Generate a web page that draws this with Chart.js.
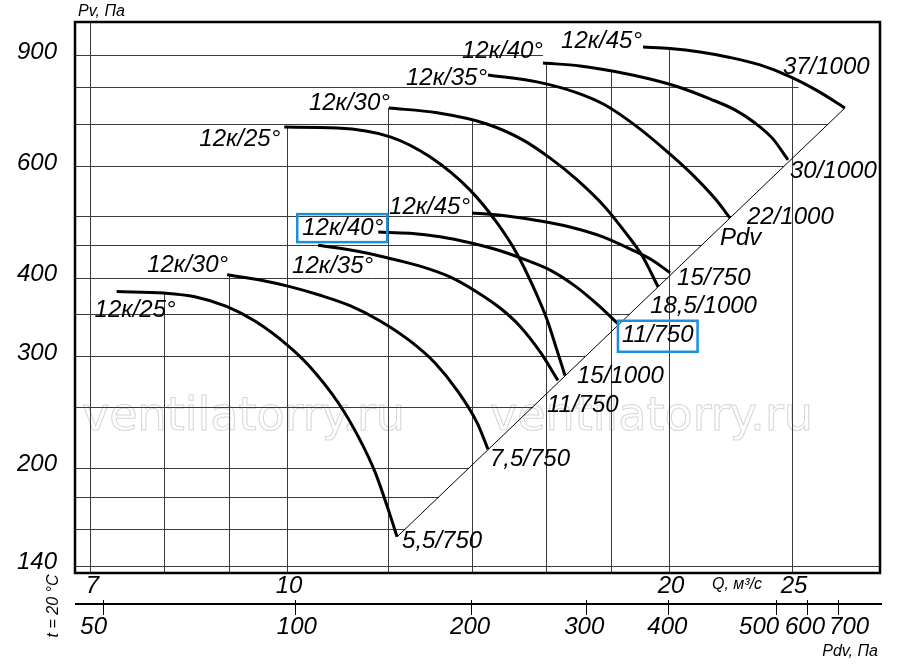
<!DOCTYPE html>
<html>
<head>
<meta charset="utf-8">
<script src="https://cdn.jsdelivr.net/npm/chart.js@4.4.1/dist/chart.umd.min.js"></script>
<style>
  html, body { margin: 0; padding: 0; background: #fff; }
</style>
</head>
<body>
<canvas id="chart" width="900" height="669"></canvas>
<script>
// axis ticks and grid
const qTicks = [7, 10, 20, 25];
const qGrid = [7, 8, 9, 10, 12, 14, 16, 18, 20, 25];
const pvTicks = [140, 200, 300, 400, 600, 900];
const pvGrid = [140, 160, 180, 200, 250, 300, 350, 400, 450, 500, 600, 700, 800, 900];
const pdvTicks = [50, 100, 200, 300, 400, 500, 600, 700];
const pdvTickQ = [7.16, 10.15, 13.96, 17.2, 19.97, 24.3, 25.7, 27.2];
const pdvLabelQ = [7.04, 10.18, 13.94, 17.15, 19.94, 23.55, 25.6, 27.73];

// lower group (750 rpm motors)
const low25Q = [7.34, 8.0, 8.46, 8.96, 9.44, 10.0, 10.39, 10.98, 11.38, 11.73, 12.06, 12.21];
const low25P = [380, 378, 373, 360, 341, 313, 291, 253, 224, 197, 168, 155.5];
const low30Q = [8.97, 9.52, 10.05, 10.62, 11.21, 11.84, 12.5, 13.08, 13.61, 14.12, 14.4];
const low30P = [404, 396.5, 387, 375, 361, 341.5, 317.5, 293, 265.5, 235.5, 214];
const low35Q = [10.58, 11.31, 11.99, 12.73, 13.44, 14.07, 14.72, 15.26, 15.83, 16.35];
const low35P = [450, 441, 430, 417, 401, 381, 358, 335, 305, 275];
const low40Q = [11.8, 12.5, 13.2, 13.94, 14.72, 15.4, 16.12, 16.86, 17.58, 18.23];
const low40P = [472, 470, 464, 454, 441, 427, 411, 388, 362, 338];
const low45Q = [13.99, 14.85, 15.74, 16.71, 17.74, 18.63, 19.39, 20.04];
const low45P = [506, 501, 492.5, 481, 464, 444, 426.5, 407];

// upper group
const up25Q = [9.95, 10.95, 12.06, 12.96, 13.94, 14.64, 15.18, 15.63, 16.03, 16.32, 16.56];
const up25P = [692, 690, 668, 621, 550, 488, 436, 387, 343, 307, 280];
const up30Q = [12.03, 13.13, 14.37, 15.35, 16.12, 16.93, 17.81, 18.47, 19.05, 19.61];
const up30P = [742, 729, 700, 660, 618, 571, 517, 472, 433, 386.5];
const up35Q = [14.4, 15.74, 16.93, 17.81, 18.8, 19.86, 20.85, 21.78, 22.34];
const up35P = [837, 816, 784, 750, 697, 637, 583, 531, 497];
const up40Q = [15.91, 17.02, 18.13, 19.32, 20.4, 21.54, 22.54, 23.38, 24.15, 24.82];
const up40P = [874, 865, 847.5, 824.5, 799.5, 767, 737, 702.5, 663, 614];
const up45Q = [19.08, 20.04, 21.16, 22.34, 23.59, 24.91, 26.21, 27.52];
const up45P = [926.5, 921.5, 910, 892, 868, 832, 789, 742];

// Pdv line
const pdvLineQ = [12.21, 27.52];
const pdvLineP = [155.5, 742];

const angleNames = ['12к/25°', '12к/30°', '12к/35°', '12к/40°', '12к/45°'];
const lowMotors = ['5,5/750', '7,5/750', '11/750', '11/750', '15/750'];
const upMotors = ['15/1000', '18,5/1000', '22/1000', '30/1000', '37/1000'];

// where the 800 / 900 grid lines stop (above the Pdv line)
const gridEndAbove = { 800: 25.3, 900: 15.91 };

const lowCurves = [[low25Q, low25P], [low30Q, low30P], [low35Q, low35P], [low40Q, low40P], [low45Q, low45P]];
const upCurves = [[up25Q, up25P], [up30Q, up30P], [up35Q, up35P], [up40Q, up40P], [up45Q, up45P]];
const allCurves = lowCurves.concat(upCurves);

// label placement: [dx, dy, align] from curve start (names) / end (motors)
const lowNamePos = [[-22, 19, 'left'], [1, -9, 'right'], [-26, 21, 'left'], [5, -4, 'right'], [-2, -6, 'right']];
const upNamePos = [[-4, 12, 'right'], [1, -5, 'right'], [-1, 3, 'right'], [0, -12, 'right'], [-1, -6, 'right']];
const lowMotorPos = [[5, 4], [2, 10], [-11, 25], [4, 12], [7, 6]];
const upMotorPos = [[12, 1], [-8, 19], [17, -1], [2, 11], [-62, -41]];
const boxedLow = 3;
const boxColor = '#1a8fdc';
const FONT = '"Liberation Sans", Arial, sans-serif';
const SIZE = 24;

function toPoints(q, p) { return q.map((v, i) => ({ x: v, y: p[i] })); }

function logInterp(q, p, x) {
  for (let i = 0; i < q.length - 1; i++) {
    if (x >= q[i] && x <= q[i + 1]) {
      const t = Math.log(x / q[i]) / Math.log(q[i + 1] / q[i]);
      return Math.exp(Math.log(p[i]) + t * Math.log(p[i + 1] / p[i]));
    }
  }
  return p[0];
}

function envelopeAt(x) {
  let best = null;
  allCurves.forEach(([q, p]) => {
    if (x >= q[0] * 0.99 && x <= q[q.length - 1]) {
      const v = x < q[0] ? p[0] : logInterp(q, p, x);
      if (best === null || v > best) best = v;
    }
  });
  return best;
}

function diagQAt(pv) {
  const t = Math.log(pv / pdvLineP[0]) / Math.log(pdvLineP[1] / pdvLineP[0]);
  return Math.exp(Math.log(pdvLineQ[0]) + t * Math.log(pdvLineQ[1] / pdvLineQ[0]));
}

function txt(ctx, s, x, y, align, size) {
  ctx.font = 'italic ' + size + 'px ' + FONT;
  ctx.textAlign = align;
  ctx.textBaseline = 'middle';
  ctx.fillText(s, x, y);
  return ctx.measureText(s).width;
}

const gridPlugin = {
  id: 'gridPlugin',
  beforeDatasetsDraw(chart) {
    const ctx = chart.ctx, xs = chart.scales.x, ys = chart.scales.y;
    const a = chart.chartArea;
    ctx.save();
    // watermark
    ctx.strokeStyle = '#d6d6d6';
    ctx.lineWidth = 1;
    ctx.font = '46px "DejaVu Sans", sans-serif';
    ctx.textAlign = 'left';
    ctx.textBaseline = 'alphabetic';
    ctx.strokeText('ventilatorry.ru', 82, 430);
    ctx.strokeText('ventilatorry.ru', 490, 430);

    ctx.strokeStyle = '#3a3a3a';
    ctx.lineWidth = 1;
    qGrid.forEach(q => {
      const env = envelopeAt(q);
      const x = Math.round(xs.getPixelForValue(q)) + 0.5;
      const yTop = env === null ? a.top : ys.getPixelForValue(env);
      ctx.beginPath();
      ctx.moveTo(x, a.bottom);
      ctx.lineTo(x, yTop);
      ctx.stroke();
    });
    pvGrid.forEach(pv => {
      let qEnd;
      if (pv < pdvLineP[0]) qEnd = xs.max;
      else if (pv > pdvLineP[1]) qEnd = gridEndAbove[pv] || xs.max;
      else qEnd = diagQAt(pv);
      const y = Math.round(ys.getPixelForValue(pv)) + 0.5;
      ctx.beginPath();
      ctx.moveTo(a.left, y);
      ctx.lineTo(xs.getPixelForValue(qEnd), y);
      ctx.stroke();
    });
    ctx.restore();
  },
  afterDatasetsDraw(chart) {
    const ctx = chart.ctx, xs = chart.scales.x, ys = chart.scales.y;
    const a = chart.chartArea;
    ctx.save();
    ctx.fillStyle = '#000';
    ctx.strokeStyle = '#000';

    // frame
    ctx.lineWidth = 2.5;
    ctx.strokeRect(a.left, a.top, a.right - a.left, a.bottom - a.top);

    // Pv tick labels
    pvTicks.forEach(v => txt(ctx, String(v), a.left - 18, ys.getPixelForValue(v) - 3, 'right', SIZE));
    // Q tick labels
    qTicks.forEach(v => txt(ctx, String(v), xs.getPixelForValue(v) + 2, a.bottom + 13, 'center', SIZE));

    // Pdv axis
    const yAx = a.bottom + 31;
    ctx.lineWidth = 2;
    ctx.beginPath();
    ctx.moveTo(a.left, yAx);
    ctx.lineTo(a.right + 2, yAx);
    ctx.stroke();
    ctx.lineWidth = 1;
    pdvTicks.forEach((v, i) => {
      const x = Math.round(xs.getPixelForValue(pdvTickQ[i])) + 0.5;
      ctx.beginPath();
      ctx.moveTo(x, yAx - 4);
      ctx.lineTo(x, yAx + 11);
      ctx.stroke();
      txt(ctx, String(v), xs.getPixelForValue(pdvLabelQ[i]), yAx + 23, 'center', SIZE);
    });

    // axis titles
    txt(ctx, 'Pv, Па', a.left + 3, 12, 'left', 16);
    txt(ctx, 'Q, м³/с', 712, a.bottom + 12, 'left', 16);
    txt(ctx, 'Pdv, Па', 878, 652, 'right', 16);
    ctx.save();
    ctx.translate(54, a.bottom + 33);
    ctx.rotate(-Math.PI / 2);
    txt(ctx, 't = 20 °C', 0, 0, 'center', 16);
    ctx.restore();

    // curve labels
    const drawGroup = (curves, namePos, motors, motorPos, boxed) => {
      curves.forEach(([q, p], i) => {
        const sx = xs.getPixelForValue(q[0]), sy = ys.getPixelForValue(p[0]);
        const [dx, dy, al] = namePos[i];
        const w = txt(ctx, angleNames[i], sx + dx, sy + dy, al, SIZE);
        const ex = xs.getPixelForValue(q[q.length - 1]), ey = ys.getPixelForValue(p[p.length - 1]);
        const [mx, my] = motorPos[i];
        const mw = txt(ctx, motors[i], ex + mx, ey + my, 'left', SIZE);
        if (i === boxed) {
          ctx.save();
          ctx.strokeStyle = boxColor;
          ctx.lineWidth = 2.5;
          const r = al === 'right' ? sx + dx : sx + dx + w;
          ctx.strokeRect(r - w - 5, sy + dy - 14, w + 9, 28);
          ctx.strokeRect(ex + mx - 4, ey + my - 15, mw + 8, 31);
          ctx.restore();
        }
      });
    };
    drawGroup(lowCurves, lowNamePos, lowMotors, lowMotorPos, boxedLow);
    drawGroup(upCurves, upNamePos, upMotors, upMotorPos, -1);

    // Pdv line label
    const px = xs.getPixelForValue(up35Q[up35Q.length - 1]), py = ys.getPixelForValue(up35P[up35P.length - 1]);
    txt(ctx, 'Pdv', px - 10, py + 20, 'left', SIZE);
    ctx.restore();
  }
};

const datasets = allCurves.map(([q, p]) => ({
  data: toPoints(q, p),
  showLine: true,
  borderColor: '#000',
  borderWidth: 3,
  pointRadius: 0,
  fill: false,
  cubicInterpolationMode: 'monotone'
}));
datasets.push({
  data: toPoints(pdvLineQ, pdvLineP),
  showLine: true,
  borderColor: '#000',
  borderWidth: 1,
  pointRadius: 0,
  fill: false
});

new Chart(document.getElementById('chart').getContext('2d'), {
  type: 'scatter',
  data: { datasets: datasets },
  options: {
    responsive: false,
    animation: false,
    events: [],
    layout: { padding: { left: 75, right: 20, top: 22, bottom: 96 } },
    plugins: { legend: { display: false }, tooltip: { enabled: false } },
    scales: {
      x: { type: 'logarithmic', min: 6.806, max: 29.33, display: false },
      y: { type: 'logarithmic', min: 136.3, max: 1015, display: false }
    }
  },
  plugins: [gridPlugin]
});
</script>
</body>
</html>
